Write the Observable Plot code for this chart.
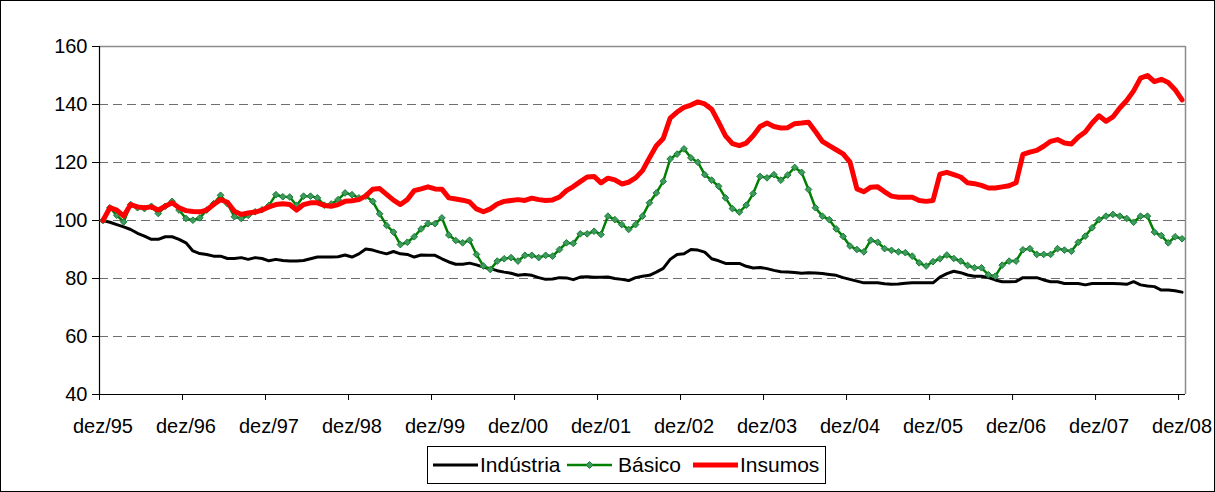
<!DOCTYPE html>
<html>
<head>
<meta charset="utf-8">
<script src="https://cdn.jsdelivr.net/npm/d3@7"></script>
<script src="https://cdn.jsdelivr.net/npm/@observablehq/plot@0.6"></script>
<style>
html, body { margin: 0; padding: 0; background: #fff; }
#frame { position: relative; width: 1213px; height: 490px; border: 1px solid #000; overflow: hidden; font-family: "Liberation Sans", Arial, sans-serif; background: #fff; }
#legend { position: absolute; left: 426px; top: 445px; width: 397px; height: 36px; border: 1px solid #000; background: #fff; }
.item { position: absolute; top: 0; height: 36px; display: flex; align-items: center; font-size: 21px; color: #000; white-space: nowrap; }
.item svg { display: block; }
</style>
</head>
<body>
<div id="frame"><div id="chart"></div><div id="legend"></div></div>
<script>
// ---- data (monthly, dez/95 .. dez/08) ----
const tickLabels = ["dez/95","dez/96","dez/97","dez/98","dez/99","dez/00","dez/01","dez/02","dez/03","dez/04","dez/05","dez/06","dez/07","dez/08"];
const yTicks = [40, 60, 80, 100, 120, 140, 160];
const gridLines = [60, 80, 100, 120, 140];
const seriesNames = ["Indústria", "Básico", "Insumos"];

const industria = [100,99.4,98.6,97.8,96.9,95.6,94.6,93.5,93.5,94.4,
94.4,93.5,92.3,89.5,88.6,88.3,87.7,87.7,86.9,86.9,
87.2,86.6,87.2,86.9,86.1,86.6,86.2,86.0,86.0,86.2,
86.8,87.4,87.4,87.4,87.5,88.1,87.4,88.5,90.2,89.8,
89.1,88.5,89.3,88.5,88.3,87.4,88.1,88.0,88.0,86.8,
85.7,84.9,84.9,85.3,84.7,83.9,83.4,82.7,82.2,81.8,
81.1,81.4,81.1,80.3,79.7,79.8,80.3,80.2,79.6,80.5,
80.6,80.4,80.4,80.5,80.0,79.7,79.3,80.3,80.8,81.1,
82.2,83.5,86.6,88.3,88.5,90.0,89.8,89.1,86.8,86.1,
85.2,85.2,85.2,84.2,83.6,83.8,83.4,82.8,82.3,82.2,
82.1,81.8,82.0,81.9,81.7,81.4,81.1,80.3,79.7,79.1,
78.5,78.5,78.5,78.2,78.0,78.1,78.4,78.5,78.5,78.5,
78.5,80.5,81.7,82.5,82.0,81.2,80.8,80.8,80.3,79.5,
78.9,78.9,79.0,80.3,80.3,80.3,79.5,78.9,78.9,78.3,
78.3,78.3,77.8,78.3,78.3,78.3,78.3,78.2,78.0,78.9,
77.8,77.4,77.2,76.0,76.0,75.8,75.3];

const basico = [100,104.4,101.8,99.5,105.5,104.4,104.1,104.9,102.4,104.9,
106.6,103.6,100.7,100.1,100.9,103.6,105.8,108.7,105.8,101.3,
100.7,101.8,103.0,103.7,105.2,108.9,108.2,108.1,105.2,108.4,
108.4,107.8,105.3,105.7,107.2,109.5,108.9,107.8,108.4,106.6,
102.3,98.3,96.0,91.7,92.5,94.4,97.1,98.9,98.9,100.9,
95.0,93.1,92.3,93.2,88.3,84.3,83.1,86.0,86.8,87.2,
86.0,88.0,88.0,87.2,88.0,87.7,90.0,92.3,92.1,95.4,
95.4,96.3,95.2,101.5,100.3,98.6,96.9,98.6,101.5,106.1,
109.5,113.5,121.2,122.9,124.7,121.6,120.1,115.8,113.9,111.8,
107.8,104.1,102.9,105.3,109.3,115.2,114.7,115.8,113.9,115.7,
118.3,116.6,110.7,104.4,101.5,100.3,97.1,94.5,91.2,90.0,
89.2,93.2,92.5,90.3,89.7,89.2,88.9,87.7,85.4,84.3,
85.8,86.8,88.1,86.9,86.0,84.5,83.7,83.7,81.3,80.8,
84.6,86.0,86.0,89.9,90.3,88.3,88.3,88.3,90.3,89.8,
89.4,92.5,94.6,97.5,100.3,101.5,102.1,101.5,100.7,99.4,
101.5,101.5,96.0,94.8,92.3,94.4,93.7];

const insumos = [100,104.4,103.6,101.5,105.5,104.7,104.4,104.7,103.6,104.9,
106.1,104.4,103.4,103.1,103.0,103.6,105.5,107.2,106.3,103.2,
102.1,102.6,102.9,103.6,104.7,105.5,105.8,105.5,103.6,105.5,
106.1,106.1,105.2,104.9,105.5,106.6,106.8,107.2,108.5,110.8,
111.0,109.0,107.0,105.5,107.2,110.3,110.9,111.6,110.9,110.8,
107.8,107.4,107.0,106.4,104.0,103.0,104.0,105.7,106.6,106.9,
107.2,106.9,107.7,107.2,106.9,107.1,108.1,110.3,111.7,113.4,
115.0,115.2,113.0,114.6,114.0,112.6,113.2,114.7,117.2,121.6,
125.8,128.3,135.3,137.4,139.0,139.8,140.9,140.2,138.4,133.9,
129.2,126.5,125.8,126.7,129.2,132.4,133.6,132.4,131.9,132.0,
133.4,133.6,133.9,130.7,127.3,125.8,124.4,123.0,120.1,110.9,
109.9,111.5,111.6,109.9,108.4,108.0,108.0,108.0,106.9,106.6,
106.9,116.0,116.6,115.8,115.0,113.0,112.7,112.1,111.2,111.2,
111.6,112.0,113.0,122.8,123.6,124.2,125.6,127.3,127.9,126.7,
126.4,128.8,130.5,133.6,136.1,134.2,135.7,138.8,141.4,144.7,
149.1,150.0,147.9,148.7,147.6,145.1,141.6];

// ---- chart ----
const n = industria.length;
const rows = arr => arr.map((v, i) => ({i, v}));
const boundaries = tickLabels.map((_, k) => k * 12 - 0.5);
const labelPos = tickLabels.map((_, k) => k * 12);

const chart = Plot.plot({
  width: 1213,
  height: 440,
  marginLeft: 98,
  marginRight: 29,
  marginTop: 45,
  marginBottom: 47,
  style: {fontFamily: "'Liberation Sans', Arial, sans-serif", fontSize: "20px", color: "#000", background: "#fff", overflow: "visible"},
  x: {type: "linear", domain: [-0.5, n - 0.5]},
  y: {domain: [40, 160]},
  marks: [
    Plot.ruleY(gridLines, {stroke: "#6e6e6e", strokeWidth: 1, strokeDasharray: "9,5"}),
    Plot.ruleY([160], {stroke: "#8c8c8c", strokeWidth: 1.5}),
    Plot.ruleX([n - 0.5], {stroke: "#8c8c8c", strokeWidth: 1.5}),
    Plot.axisY(yTicks, {tickSize: 7, tickPadding: 5, label: null}),
    Plot.axisX(boundaries, {tickSize: 6, tickFormat: () => "", label: null}),
    Plot.axisX(labelPos, {tickSize: 0, tickPadding: 24, tickFormat: d => tickLabels[Math.round(d / 12)], label: null}),
    Plot.ruleX([-0.5], {stroke: "#000", strokeWidth: 1.2}),
    Plot.ruleY([40], {stroke: "#000", strokeWidth: 1.2}),
    Plot.line(rows(industria), {x: "i", y: "v", stroke: "#000000", strokeWidth: 3}),
    Plot.line(rows(basico), {x: "i", y: "v", stroke: "#008000", strokeWidth: 2.5}),
    Plot.dot(rows(basico), {x: "i", y: "v", symbol: "diamond2", r: 3, fill: "#3c9c5c", stroke: "#1d7a3a", strokeWidth: 1}),
    Plot.line(rows(insumos), {x: "i", y: "v", stroke: "#ff0000", strokeWidth: 5})
  ]
});
document.getElementById("chart").appendChild(chart);

// ---- legend ----
const legend = document.getElementById("legend");
const legendItems = [
  {name: seriesNames[0], color: "#000000", width: 3, marker: false, left: 5, textLeft: 52},
  {name: seriesNames[1], color: "#008000", width: 2.5, marker: true, left: 139, textLeft: 190},
  {name: seriesNames[2], color: "#ff0000", width: 5, marker: false, left: 265, textLeft: 312}
];
for (const it of legendItems) {
  const s = document.createElement("div");
  s.className = "item";
  s.style.left = it.left + "px";
  s.innerHTML = `<svg width="45" height="14"><line x1="0" x2="45" y1="7" y2="7" stroke="${it.color}" stroke-width="${it.width}"/>` +
    (it.marker ? `<path d="M22.5,3.5L26,7L22.5,10.5L19,7Z" fill="#3c9c5c" stroke="#1d7a3a" stroke-width="1"/>` : "") + `</svg>`;
  legend.appendChild(s);
  const t = document.createElement("div");
  t.className = "item";
  t.style.left = it.textLeft + "px";
  t.textContent = it.name;
  legend.appendChild(t);
}
</script>
</body>
</html>
